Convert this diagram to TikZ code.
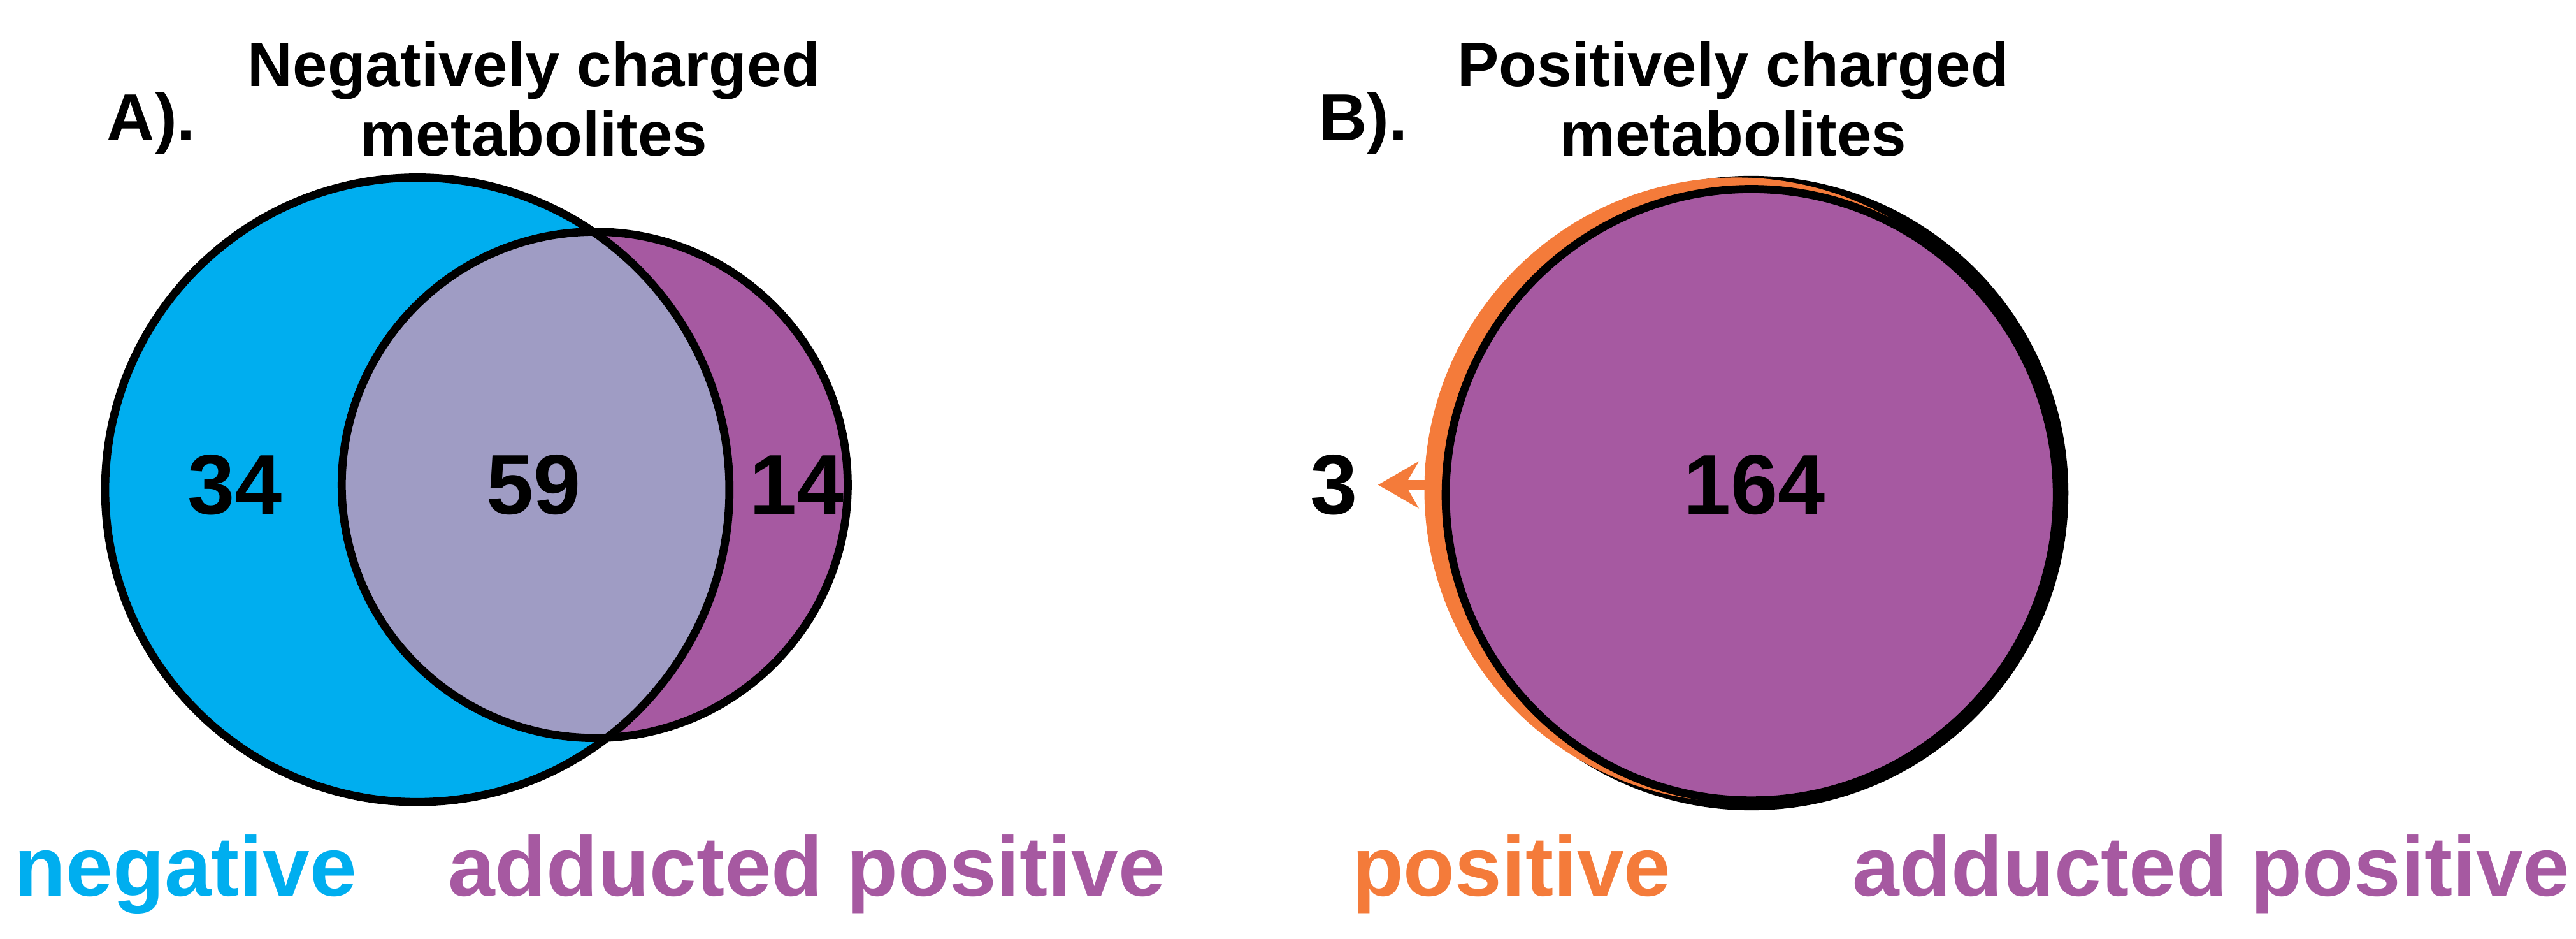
\documentclass[tikz,border=0pt]{standalone}
\usepackage{fontspec}
\usetikzlibrary{arrows.meta}
\setmainfont{Liberation Sans}
\definecolor{cblue}{HTML}{00AEEF}
\definecolor{cpurp}{HTML}{A659A1}
\definecolor{cover}{HTML}{9F9CC4}
\definecolor{corange}{HTML}{F47B3A}
\begin{document}
\begin{tikzpicture}[x=0.01cm,y=-0.01cm,
  ring/.style={draw=black,line width=1.4pt},
  num/.style={font=\fontsize{14.7}{16}\selectfont\bfseries},
  ttl/.style={font=\fontsize{10.8}{12}\selectfont\bfseries,align=center},
  lab/.style={font=\fontsize{14.6}{16}\selectfont\bfseries}]
\useasboundingbox (0,0) rectangle (1568,571);
% A
\fill[cblue] (254,298) circle (190);
\fill[cpurp] (362,295) circle (154);
\begin{scope}
\clip (254,298) circle (190);
\fill[cover] (362,295) circle (154);
\end{scope}
\draw[ring] (254,298) circle (190);
\draw[ring] (362,295) circle (154);
\node[ttl] (ta) at (325,60) {Negatively charged\\metabolites};
\node[font=\fontsize{11.5}{13}\selectfont\bfseries] (la) at (92,75) {A).};
\node[num] (n34) at (143,295) {34};
\node[num] (n59) at (325,295) {59};
\node[num] (n14) at (485,295) {14};
\node[lab,text=cblue] (neg) at (113,532) {negative};
\node[lab,text=cpurp] (adA) at (491,532) {adducted positive};
% B
\fill[black] (1066,300) circle (193);
\fill[corange] (1057,298) circle (190);
\draw[ring,fill=cpurp] (1066,301) circle (186);
\node[ttl] (tb) at (1055,60) {Positively charged\\metabolites};
\node[font=\fontsize{11.5}{13}\selectfont\bfseries] (lb) at (830,75) {B).};
\node[num] (n164) at (1068,295) {164};
\node[num] (n3) at (812,295) {3};
\coordinate (os) at (874,295);
\draw[corange,line width=1.6pt,-{Stealth[length=7pt,width=8pt]}] (os) -- (n3.east);
\node[lab,text=corange] (pos) at (920,532) {positive};
\node[lab,text=cpurp] (adB) at (1346,532) {adducted positive};
\end{tikzpicture}
\end{document}
